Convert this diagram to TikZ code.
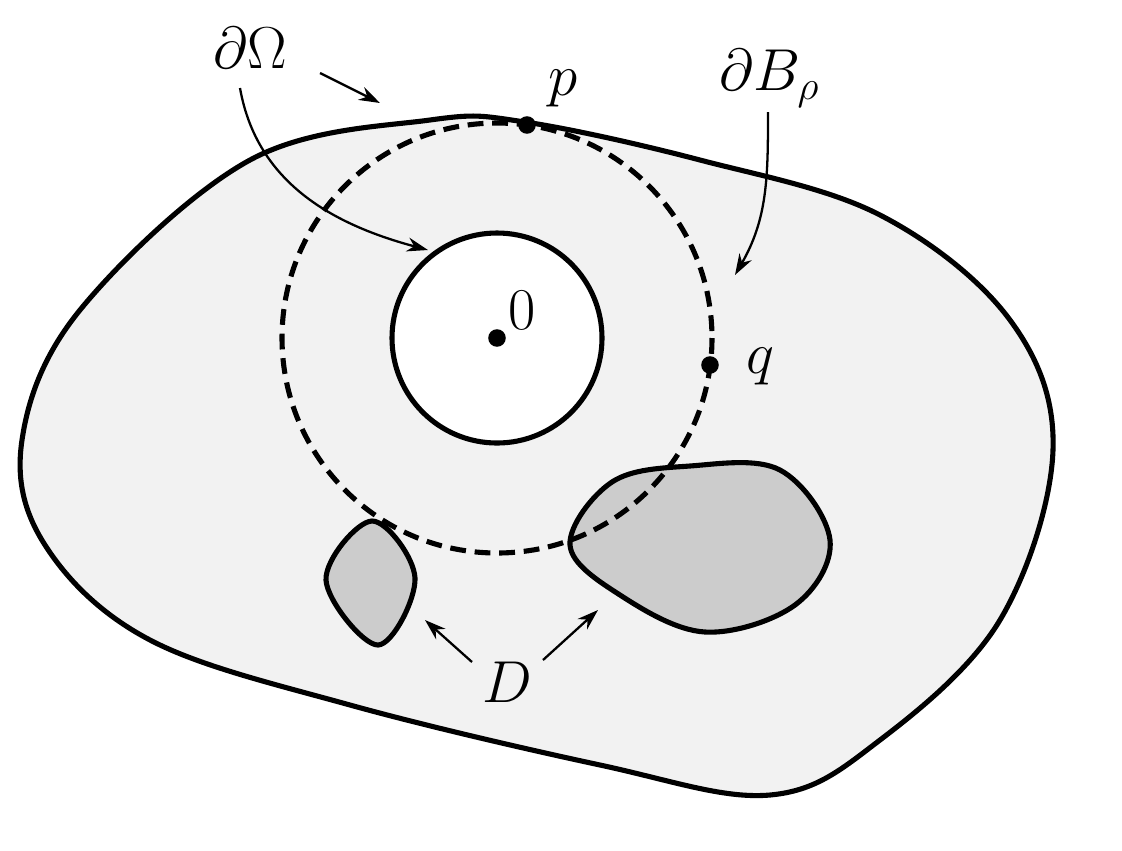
\documentclass[tikz,border=0pt]{standalone}
\usepackage{amsmath}
\usetikzlibrary{arrows, arrows.meta, calc, positioning}
\tikzstyle{region} = [line width=2.9pt, line join=round]
\tikzstyle{pointer} = [line width=1.3pt,-{Stealth[length=12pt,width=8pt]}]
\tikzstyle{lbl} = [font=\LARGE, scale=1.95, inner sep=0pt]
\tikzstyle{dot} = [circle, fill, inner sep=0pt, minimum size=10pt]
\begin{document}
\begin{tikzpicture}[x=0.02cm, y=-0.02cm]
		\useasboundingbox (0,0) rectangle (1122,850);
		% outer domain
		\draw[region, fill=gray!10] plot[smooth cycle, tension=0.6] coordinates {(525,122) (700,160) (880,215) (1010,320) (1053,450) (1000,620) (880,740) (770,795) (600,765) (350,705) (150,640) (45,545) (22,440) (80,310) (250,160) (430,120)};
		% hole
		\draw[region, fill=white] (497,338) circle (105);
		% obstacles D
		\draw[region, fill=gray!40] plot[smooth cycle, tension=0.6] coordinates {(372,521) (415,578) (378,645) (326,580)};
		\draw[region, fill=gray!40] plot[smooth cycle, tension=0.6] coordinates {(570,545) (612,482) (690,466) (780,470) (830,540) (795,605) (705,632) (620,595)};
		% ball boundary
		\draw[line width=2.9pt, dash pattern=on 9pt off 5pt] (497,338) circle (215);
		% points
		\node (Origin) [dot] at (497,338) {};
		\node (P) [dot] at (527,125) {};
		\node (Q) [dot] at (710,365) {};
		\node (OriginLabel) [lbl] at (522,310) {$0$};
		\node (PLabel) [lbl] at (563,88) {$p$};
		\node (QLabel) [lbl] at (760,366) {$q$};
		\node (Omega) [lbl] at (250,48) {$\partial\Omega$};
		\node (Ball) [lbl] at (770,78) {$\partial B_\rho$};
		\node (Dlabel) [lbl] at (507,682) {$D$};
		\coordinate (OuterTip) at (380,103);
		\coordinate (InnerTip) at (428,250);
		\coordinate (BallTip) at (735,275);
		\coordinate (LeftTip) at (425,620);
		\coordinate (RightTip) at (598,610);
		% pointers
		\draw [pointer] (320,73) -- (OuterTip);
		\draw [pointer] (240,88) to[out=-80, in=165] (InnerTip);
		\draw [pointer] (768,112) to[out=-90, in=60] (BallTip);
		\draw [pointer] (472,662) -- (LeftTip);
		\draw [pointer] (543,660) -- (RightTip);
\end{tikzpicture}
\end{document}
